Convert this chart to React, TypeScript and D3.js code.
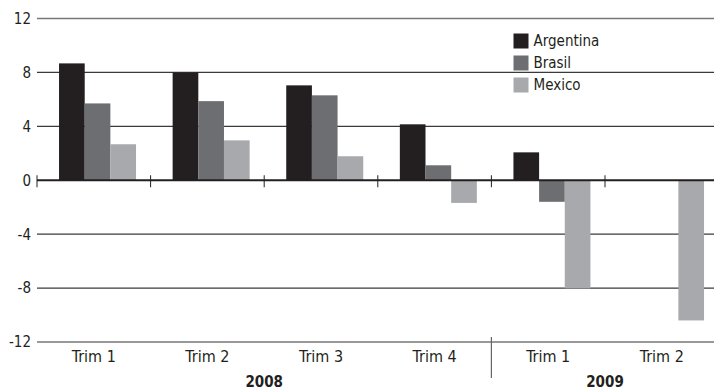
import React from "react";
import * as d3 from "d3";

const categories = ["Trim 1", "Trim 2", "Trim 3", "Trim 4", "Trim 1 ", "Trim 2 "];
const years = ["2008", "2009"];
const yearSpans = [[0, 3], [4, 5]];
const series = ["Argentina", "Brasil", "Mexico"];
const colors = ["#231f20", "#6d6e71", "#a7a9ac"];
const argentina = [8.67, 8.0, 7.04, 4.15, 2.07, 0];
const brasil = [5.7, 5.87, 6.3, 1.11, -1.6, 0];
const mexico = [2.67, 2.96, 1.78, -1.68, -8.02, -10.4];
const yTicks = [12, 8, 4, 0, -4, -8, -12];

const values = [argentina, brasil, mexico];
const FONT = "'DejaVu Sans Condensed', 'DejaVu Sans', sans-serif";

export default function App() {
  const W = 714, H = 392;
  const x = d3.scaleBand<string>().domain(categories).range([37, 718.6]).padding(0);
  const bw = x.bandwidth();
  const inner = d3.scaleBand<string>().domain(series).range([bw * 0.194, bw * 0.194 + 77]).padding(0);
  const y = d3.scaleLinear().domain([-12, 12]).range([342, 18.5]);
  const x0 = 37;

  return (
    <svg width={W} height={H} style={{ position: "absolute", left: 0, top: 0, fontFamily: FONT }}>
      <rect width={W} height={H} fill="#fff" />
      {yTicks.map((t) => (
        <g key={t}>
          {t !== 0 && (
            <line x1={x0} x2={W} y1={y(t)} y2={y(t)} stroke={Math.abs(t) === 12 ? "#777" : "#3a3a3a"} strokeWidth={1.4} />
          )}
          <text x={31} y={y(t)} dy="0.36em" textAnchor="end" fontSize={15} fill="#231f20">
            {t}
          </text>
        </g>
      ))}
      {series.map((s, si) =>
        categories.map((c, ci) => {
          const v = values[si][ci];
          if (v === 0) return null;
          return (
            <rect
              key={s + ci}
              x={(x(c) as number) + (inner(s) as number)}
              width={inner.bandwidth()}
              y={y(Math.max(0, v))}
              height={Math.abs(y(v) - y(0))}
              fill={colors[si]}
            />
          );
        })
      )}
      <line x1={x0} x2={W} y1={y(0)} y2={y(0)} stroke="#231f20" strokeWidth={2} />
      {categories.map((c) => (
        <line key={"t" + c} x1={x(c)} x2={x(c)} y1={y(0) - 5} y2={y(0) + 7} stroke="#231f20" strokeWidth={1} />
      ))}
      {categories.map((c) => (
        <text key={"l" + c} x={(x(c) as number) + bw / 2} y={362} textAnchor="middle" fontSize={16} fill="#231f20">
          {c.trim()}
        </text>
      ))}
      <line x1={x(categories[4])} x2={x(categories[4])} y1={337} y2={378} stroke="#666" strokeWidth={1.2} />
      {years.map((yr, i) => {
        const a = x(categories[yearSpans[i][0]]) as number;
        const b = (x(categories[yearSpans[i][1]]) as number) + bw;
        return (
          <text key={yr} x={(a + b) / 2} y={387} textAnchor="middle" fontSize={15} fontWeight="bold" fill="#231f20">
            {yr}
          </text>
        );
      })}
      {series.map((s, i) => (
        <g key={"lg" + s} transform={`translate(513.5, ${33.5 + i * 22})`}>
          <rect width={15} height={15} fill={colors[i]} />
          <text x={20} y={7.5} dy="0.36em" fontSize={15} fill="#231f20">
            {s}
          </text>
        </g>
      ))}
    </svg>
  );
}
